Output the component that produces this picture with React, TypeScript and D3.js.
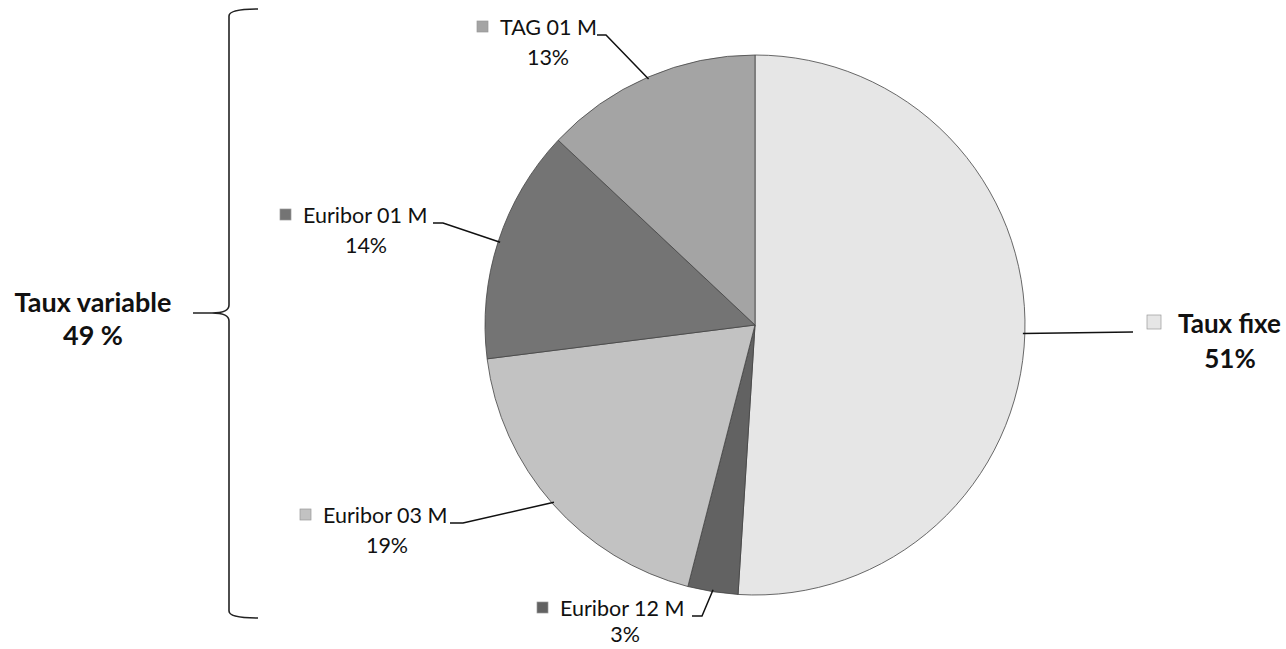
import * as d3 from "d3";

const labels = ["Taux fixe", "Euribor 12 M", "Euribor 03 M", "Euribor 01 M", "TAG 01 M"];
const values = [51, 3, 19, 14, 13];
const fills = ["#e6e6e6", "#626262", "#c2c2c2", "#747474", "#a4a4a4"];

// text start x, first baseline y, centre x of the % line, gap to % line, elbow of the leader
const labelPos = [
  { x: 1178, y: 333, pctX: 1230, gap: 35, bold: true, elbow: [1133, 332], tail: 0 },
  { x: 560, y: 616, pctX: 625, gap: 26, bold: false, elbow: [702, 616], tail: 10 },
  { x: 323, y: 523, pctX: 387, gap: 30, bold: false, elbow: [463, 523], tail: 13 },
  { x: 303, y: 223, pctX: 366, gap: 30, bold: false, elbow: [443, 223], tail: 10 },
  { x: 500, y: 35, pctX: 548, gap: 30, bold: false, elbow: [606, 35], tail: 9 },
];

const variableLabel = "Taux variable";
const variablePct = "49 %";

const cx = 755;
const cy = 325;
const R = 270;
const font = "Lato, 'Open Sans', sans-serif";

export default function App() {
  const pie = d3.pie<number>().sort(null).value((d) => d);
  const arcs = pie(values);
  const arc = d3.arc<d3.PieArcDatum<number>>().innerRadius(0).outerRadius(R);
  const edge = d3.arc<d3.PieArcDatum<number>>().innerRadius(R * 2 - 4).outerRadius(0);

  const brace = d3.path();
  brace.moveTo(258, 9);
  brace.quadraticCurveTo(229, 9, 229, 16);
  brace.lineTo(229, 305);
  brace.quadraticCurveTo(229, 313, 212, 313);
  brace.lineTo(193, 313);
  brace.moveTo(212, 313);
  brace.quadraticCurveTo(229, 313, 229, 321);
  brace.lineTo(229, 611);
  brace.quadraticCurveTo(229, 618, 258, 618);

  return (
    <svg width={1286} height={649} style={{ position: "absolute", left: 0, top: 0 }}>
      <rect width={1286} height={649} fill="#fff" />
      <g transform={`translate(${cx},${cy})`}>
        {arcs.map((a, i) => (
          <path key={i} d={arc(a) || ""} fill={fills[i]} stroke="#444" strokeWidth={0.8} />
        ))}
      </g>
      {arcs.map((a, i) => {
        const [ex, ey] = edge.centroid(a);
        const lp = labelPos[i];
        const size = lp.bold ? 26 : 21.5;
        const box = lp.bold ? 14 : 11;
        return (
          <g key={"l" + i}>
            <polyline
              points={`${cx + ex},${cy + ey} ${lp.elbow[0]},${lp.elbow[1]} ${lp.elbow[0] - lp.tail},${lp.elbow[1]}`}
              fill="none"
              stroke="#111"
              strokeWidth={1.5}
            />
            <rect
              x={lp.x - (lp.bold ? 31 : 23)}
              y={lp.y - (lp.bold ? 18 : 14)}
              width={box}
              height={box}
              fill={fills[i]}
              stroke="#999"
              strokeWidth={0.7}
            />
            <text x={lp.x} y={lp.y} fontFamily={font} fontSize={size} fontWeight={lp.bold ? 700 : 400} fill="#111">
              {labels[i]}
            </text>
            <text
              x={lp.pctX}
              y={lp.y + lp.gap}
              fontFamily={font}
              fontSize={size}
              fontWeight={lp.bold ? 700 : 400}
              fill="#111"
              textAnchor="middle"
            >
              {values[i]}%
            </text>
          </g>
        );
      })}
      <path d={brace.toString()} fill="none" stroke="#222" strokeWidth={1.6} />
      <text x={93} y={312} textAnchor="middle" fontFamily={font} fontSize={27} fontWeight={700} fill="#111">
        {variableLabel}
      </text>
      <text x={93} y={345} textAnchor="middle" fontFamily={font} fontSize={27} fontWeight={700} fill="#111">
        {variablePct}
      </text>
    </svg>
  );
}
